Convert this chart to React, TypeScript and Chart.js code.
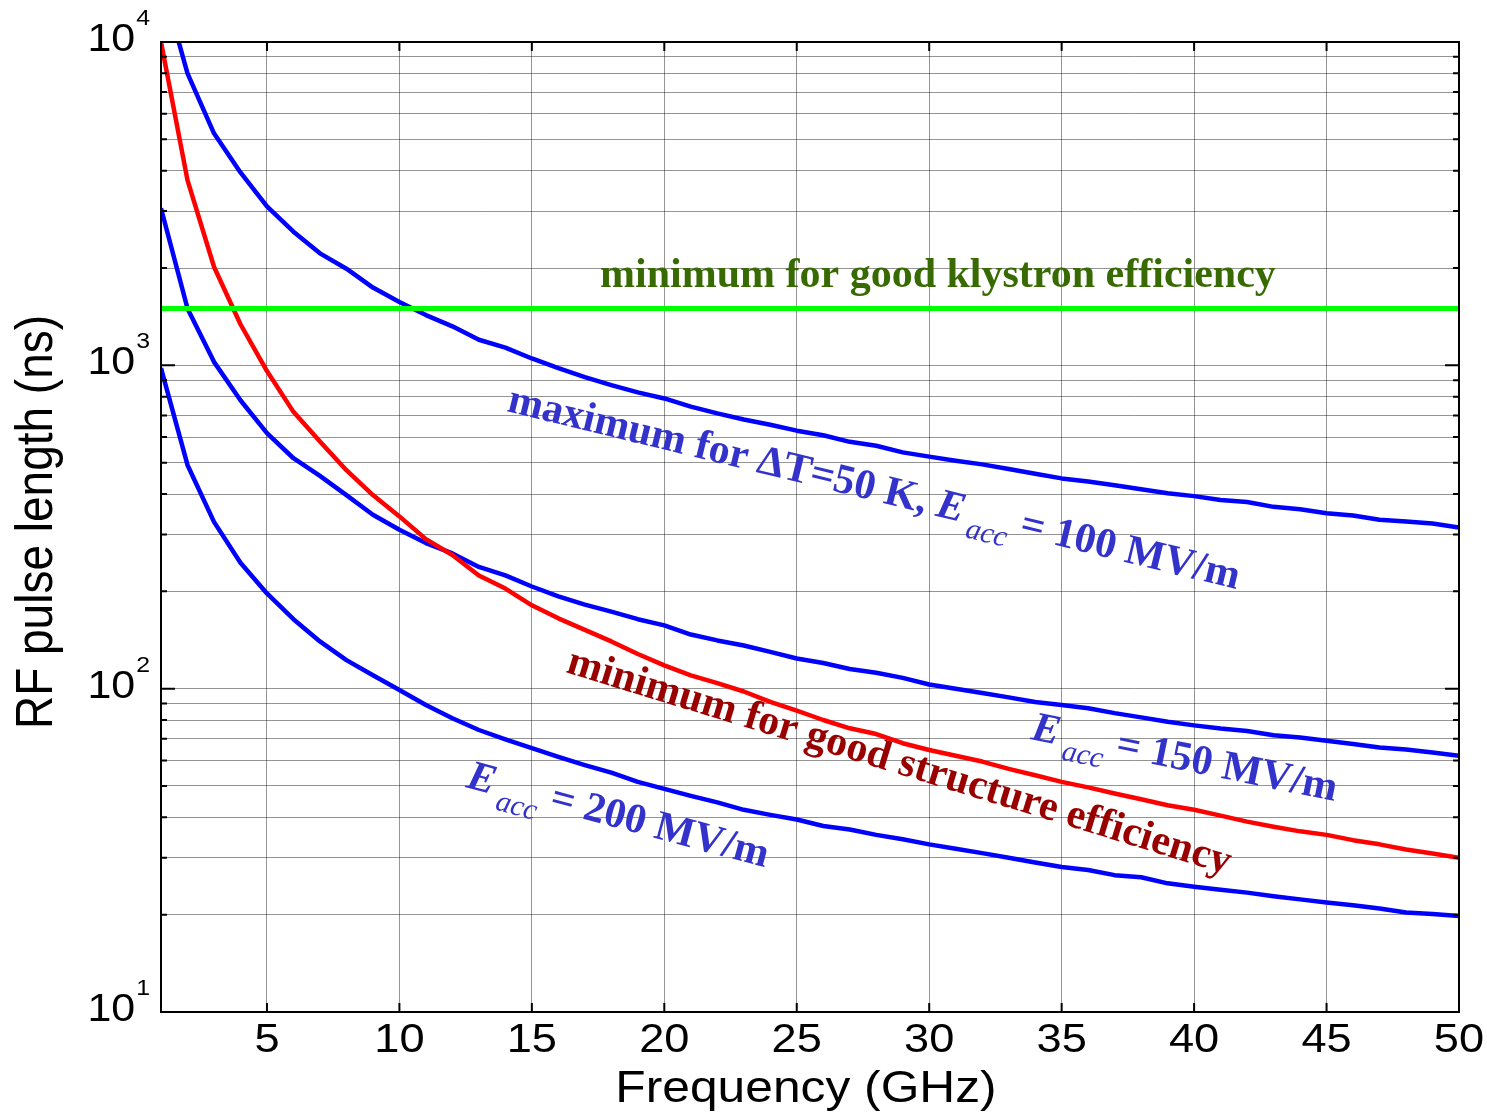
import { useEffect, useRef } from "react";
import { Chart, registerables } from "chart.js";

Chart.register(...registerables);

// ---------- data ----------
const frequencyGHz = [
  1, 2, 3, 4, 5, 6, 7, 8, 9, 10, 11, 12, 13, 14, 15, 16, 17, 18, 19, 20, 21, 22, 23, 24, 25,
  26, 27, 28, 29, 30, 31, 32, 33, 34, 35, 36, 37, 38, 39, 40, 41, 42, 43, 44, 45, 46, 47, 48, 49, 50,
];

// maximum for dT = 50 K, Eacc = 100 MV/m
const maxPulseEacc100 = [
  15700, 8000, 5220, 3950, 3100, 2590, 2220, 1990, 1740, 1570,
  1430, 1320, 1200, 1135, 1050, 980, 920, 869, 825, 790,
  745, 710, 680, 655, 628, 608, 580, 564, 538, 522,
  507, 494, 478, 462, 447, 437, 426, 414, 402, 394,
  383, 378, 365, 359, 349, 343, 333, 329, 324, 315,
];

// Eacc = 150 MV/m
const maxPulseEacc150 = [
  3060, 1500, 1025, 780, 617, 516, 455, 397, 345, 310,
  282, 262, 238, 224, 207, 193, 182, 173, 164, 157,
  147, 141, 136, 130, 124, 120, 115, 112, 108, 103,
  100, 97, 94, 91, 89, 87, 84, 81.5, 79, 77,
  75.3, 74, 71.8, 70.6, 69, 67.4, 65.8, 64.8, 63.5, 62,
];

// Eacc = 200 MV/m
const maxPulseEacc200 = [
  980, 492, 328, 245, 197, 164, 140, 122.5, 110, 99,
  89, 81, 74.5, 69.7, 65.5, 61.5, 58, 55, 51.5, 49,
  46.6, 44.5, 42.2, 40.7, 39.4, 37.6, 36.7, 35.3, 34.2, 33,
  32, 31, 30, 29, 28.1, 27.5, 26.5, 26.1, 25, 24.4,
  23.9, 23.4, 22.8, 22.3, 21.8, 21.4, 20.9, 20.3, 20.1, 19.8,
];

// minimum for good structure efficiency
const minPulseStructure = [
  10000, 3740, 2018, 1340, 960, 718, 581, 474, 397, 341,
  290, 259, 224, 204, 181, 165, 152, 140, 128, 118,
  110, 104, 98, 91, 85.5, 80, 75.4, 72.4, 67.8, 64.6,
  62, 59.5, 56.5, 54, 51.5, 49.5, 47.4, 45.5, 43.6, 42.2,
  40.5, 38.8, 37.4, 36.2, 35.3, 34, 33, 31.8, 30.9, 30,
];

// minimum for good klystron efficiency (horizontal)
const klystronFreq = [1, 50];
const klystronPulse = [1500, 1500];

// axes
const xTickValues = [5, 10, 15, 20, 25, 30, 35, 40, 45, 50];
const yGridValues = [
  10, 20, 30, 40, 50, 60, 70, 80, 90,
  100, 200, 300, 400, 500, 600, 700, 800, 900,
  1000, 2000, 3000, 4000, 5000, 6000, 7000, 8000, 9000,
  10000,
];
const yDecadeValues = [10, 100, 1000, 10000];
const yDecadeExponents = ["1", "2", "3", "4"];

const xAxisTitle = "Frequency (GHz)";
const yAxisTitle = "RF pulse length (ns)";

const W = 1487;
const H = 1113;

const SANS = '"Liberation Sans", Arial, Helvetica, sans-serif';
const SERIF = '"Liberation Serif", "Times New Roman", Times, serif';
const SX = 1.13; // horizontal stretch of the axis texts in the reference

function stretchedText(
  ctx: CanvasRenderingContext2D,
  text: string,
  x: number,
  y: number,
  font: string,
  align: CanvasTextAlign,
  sx: number,
) {
  ctx.save();
  ctx.translate(x, y);
  ctx.scale(sx, 1);
  ctx.font = font;
  ctx.textAlign = align;
  ctx.textBaseline = "alphabetic";
  ctx.fillText(text, 0, 0);
  ctx.restore();
}

type Seg = { text: string; font: string; dy?: number; gap?: number };

function drawRich(
  ctx: CanvasRenderingContext2D,
  x: number,
  y: number,
  angleDeg: number,
  color: string,
  segs: Seg[],
) {
  ctx.save();
  ctx.translate(x, y);
  ctx.rotate((angleDeg * Math.PI) / 180);
  ctx.fillStyle = color;
  ctx.textAlign = "left";
  ctx.textBaseline = "alphabetic";
  let cx = 0;
  for (const s of segs) {
    ctx.font = s.font;
    ctx.fillText(s.text, cx, s.dy || 0);
    cx += ctx.measureText(s.text).width + (s.gap || 0);
  }
  ctx.restore();
}

const BOLD = `bold 42px ${SERIF}`;
const BOLDIT = `italic bold 42px ${SERIF}`;
const SUB = `italic 30px ${SERIF}`;
const BLUE_TXT = "#3333cc";
const RED_TXT = "#990000";
const GREEN_TXT = "#376a00";

const decorPlugin = {
  id: "decor",
  afterDraw(chart: any) {
    const ctx: CanvasRenderingContext2D = chart.ctx;
    const xs = chart.scales.x;
    const ys = chart.scales.y;
    const { left, top, right, bottom } = chart.chartArea;
    ctx.save();

    // inner tick marks
    ctx.strokeStyle = "#000";
    ctx.lineWidth = 2;
    ctx.beginPath();
    for (const v of xTickValues) {
      const px = xs.getPixelForValue(v);
      ctx.moveTo(px, bottom);
      ctx.lineTo(px, bottom - 9);
      ctx.moveTo(px, top);
      ctx.lineTo(px, top + 9);
    }
    for (const v of yGridValues) {
      const py = ys.getPixelForValue(v);
      const len = yDecadeValues.includes(v) ? 14 : 6;
      ctx.moveTo(left, py);
      ctx.lineTo(left + len, py);
      ctx.moveTo(right, py);
      ctx.lineTo(right - len, py);
    }
    ctx.stroke();

    // frame
    ctx.lineWidth = 2;
    ctx.strokeRect(left, top, right - left, bottom - top);

    ctx.fillStyle = "#000";
    // x tick labels
    for (const v of xTickValues) {
      const px = xs.getPixelForValue(v);
      stretchedText(ctx, String(v), px, bottom + 40, `40px ${SANS}`, "center", SX);
    }
    // y tick labels 10^n
    yDecadeValues.forEach((v, i) => {
      const py = ys.getPixelForValue(v);
      ctx.font = `22px ${SANS}`;
      const supW = ctx.measureText(yDecadeExponents[i]).width * SX;
      const supX = left - 11 - supW;
      stretchedText(ctx, "10", supX - 1, py + 9, `38px ${SANS}`, "right", SX);
      stretchedText(ctx, yDecadeExponents[i], supX, py - 17, `22px ${SANS}`, "left", SX);
    });

    // axis titles
    stretchedText(ctx, xAxisTitle, (left + right) / 2 - 4, 1102, `44px ${SANS}`, "center", SX);
    ctx.save();
    ctx.translate(52, (top + bottom) / 2 - 5);
    ctx.scale(SX, 1);
    ctx.rotate(-Math.PI / 2);
    ctx.font = `46px ${SANS}`;
    ctx.textAlign = "center";
    ctx.textBaseline = "alphabetic";
    ctx.fillText(yAxisTitle, 0, 0);
    ctx.restore();

    // annotations
    drawRich(ctx, 600, 287, 0, GREEN_TXT, [
      { text: "minimum for good klystron efficiency", font: BOLD },
    ]);
    drawRich(ctx, 506, 411, 13.7, BLUE_TXT, [
      { text: "maximum for \u0394T=50 K, ", font: BOLD },
      { text: "E", font: BOLDIT, gap: 6 },
      { text: "acc", font: SUB, dy: 14 },
      { text: " = 100 MV/m", font: BOLD },
    ]);
    drawRich(ctx, 565, 672, 17, RED_TXT, [
      { text: "minimum for good structure efficiency", font: BOLD },
    ]);
    drawRich(ctx, 1030, 739, 11.5, BLUE_TXT, [
      { text: "E", font: BOLDIT, gap: 6 },
      { text: "acc", font: SUB, dy: 14 },
      { text: " = 150 MV/m", font: BOLD },
    ]);
    drawRich(ctx, 465, 787, 15, BLUE_TXT, [
      { text: "E", font: BOLDIT, gap: 6 },
      { text: "acc", font: SUB, dy: 14 },
      { text: " = 200 MV/m", font: BOLD },
    ]);

    ctx.restore();
  },
};

const gridStyle = { color: "rgba(0,0,0,0.42)", lineWidth: 1, drawTicks: false };

export default function App() {
  const ref = useRef<HTMLCanvasElement | null>(null);

  useEffect(() => {
    const canvas = ref.current;
    if (!canvas) return;
    const pts = (xs: number[], ys: number[]) => xs.map((x, i) => ({ x, y: ys[i] }));

    const chart = new Chart(canvas, {
      type: "line",
      data: {
        datasets: [
          {
            label: "klystron",
            data: pts(klystronFreq, klystronPulse),
            borderColor: "#00ff00",
            borderWidth: 5,
            order: 0,
          },
          {
            label: "structure",
            data: pts(frequencyGHz, minPulseStructure),
            borderColor: "#ff0000",
            borderWidth: 4.5,
            order: 1,
          },
          {
            label: "Eacc100",
            data: pts(frequencyGHz, maxPulseEacc100),
            borderColor: "#0000ff",
            borderWidth: 4.5,
            order: 2,
          },
          {
            label: "Eacc150",
            data: pts(frequencyGHz, maxPulseEacc150),
            borderColor: "#0000ff",
            borderWidth: 4.5,
            order: 2,
          },
          {
            label: "Eacc200",
            data: pts(frequencyGHz, maxPulseEacc200),
            borderColor: "#0000ff",
            borderWidth: 4.5,
            order: 2,
          },
        ] as any,
      },
      options: {
        responsive: false,
        animation: false,
        events: [],
        layout: { padding: { left: 161, top: 42, right: 28, bottom: 101 } },
        elements: {
          point: { radius: 0 },
          line: { tension: 0, borderJoinStyle: "round", borderCapStyle: "butt" },
        },
        plugins: {
          legend: { display: false },
          tooltip: { enabled: false },
          title: { display: false },
        },
        scales: {
          x: {
            type: "linear",
            min: 1,
            max: 50,
            afterBuildTicks: (s: any) => {
              s.ticks = xTickValues.map((v) => ({ value: v }));
            },
            afterFit: (s: any) => {
              s.height = 0;
            },
            ticks: { display: false },
            grid: gridStyle,
            border: { display: false },
          },
          y: {
            type: "logarithmic",
            min: 10,
            max: 10000,
            afterBuildTicks: (s: any) => {
              s.ticks = yGridValues.map((v) => ({ value: v }));
            },
            afterFit: (s: any) => {
              s.width = 0;
            },
            ticks: { display: false },
            grid: gridStyle,
            border: { display: false },
          },
        },
      } as any,
      plugins: [decorPlugin],
    });
    return () => chart.destroy();
  }, []);

  return (
    <div
      style={{
        position: "absolute",
        left: 0,
        top: 0,
        width: W,
        height: H,
        background: "#fff",
      }}
    >
      <canvas ref={ref} width={W} height={H} style={{ display: "block", width: W, height: H }} />
    </div>
  );
}
